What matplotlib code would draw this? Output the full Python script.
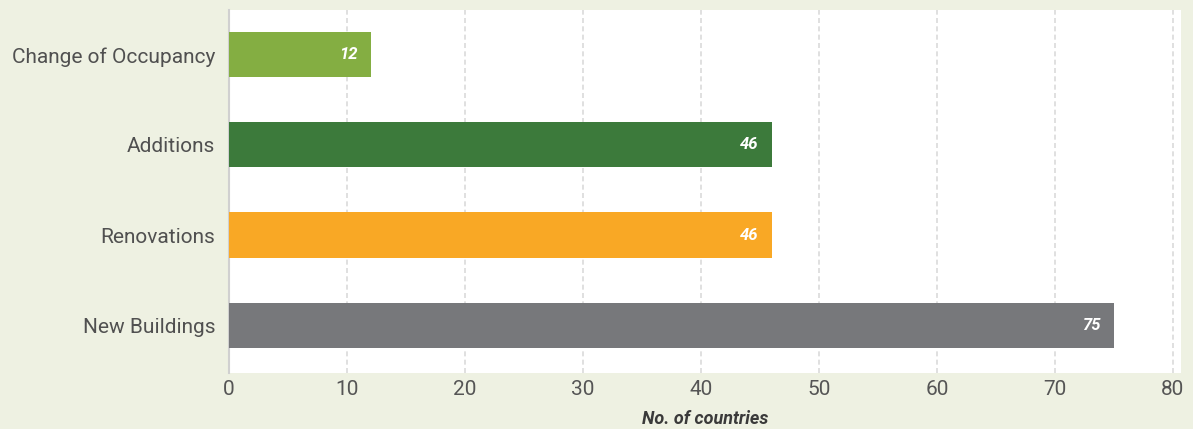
import matplotlib.pyplot as plt

categories = ['New Buildings', 'Renovations', 'Additions', 'Change of Occupancy']
values = [75, 46, 46, 12]
colors = ['#77787B', '#F9A825', '#3C7A3B', '#84AE42']
xticks = [0, 10, 20, 30, 40, 50, 60, 70, 80]

plt.rcParams['font.family'] = ['Roboto', 'DejaVu Sans']

fig = plt.figure(figsize=(11.93, 4.29), dpi=100)
fig.patch.set_facecolor('#EEF1E2')
ax = fig.add_axes([0.192, 0.131, 0.798, 0.846])
ax.set_facecolor('white')

ypos = list(range(len(categories)))
bars = ax.barh(ypos, values, height=0.5, color=colors, zorder=3)
for b, v in zip(bars, values):
    ax.text(b.get_width() - 1.1, b.get_y() + b.get_height() / 2, str(v),
            ha='right', va='center', color='white', fontsize=12,
            fontweight='bold', fontstyle='italic', zorder=4)

ax.set_xlim(0, 80.7)
ax.set_ylim(-0.53, 3.5)
ax.set_yticks(ypos)
ax.set_yticklabels(categories, fontsize=15, color='#505050')
ax.set_xticks(xticks)
ax.set_xticklabels([str(t) for t in xticks], fontsize=15, color='#555555')
ax.tick_params(axis='y', length=0, pad=10)
ax.tick_params(axis='x', length=0, pad=5)
ax.xaxis.grid(True, linestyle=(0, (3, 2)), color='#DADADA', linewidth=1.2, zorder=0)

for s in ['top', 'right', 'bottom']:
    ax.spines[s].set_visible(False)
ax.spines['left'].set_color('#D0D0D0')
ax.spines['left'].set_linewidth(1.5)

ax.set_xlabel('No. of countries', fontsize=13, fontweight='bold', fontstyle='italic',
              color='#3A3A3A', labelpad=8)

fig.savefig('out.png', dpi=100, facecolor=fig.get_facecolor())
